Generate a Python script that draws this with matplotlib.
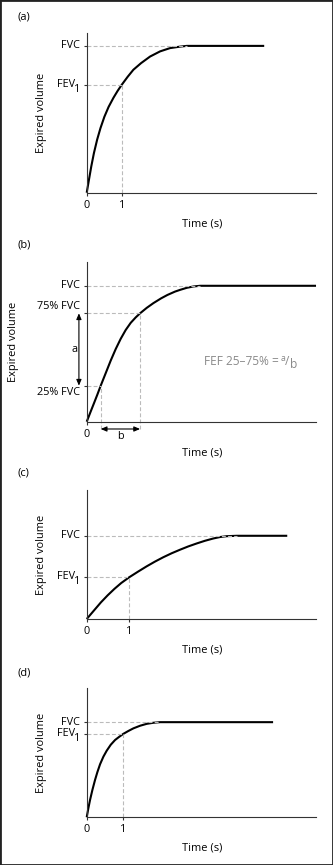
import matplotlib
matplotlib.use('Agg')
import matplotlib.pyplot as plt
from matplotlib.patches import Rectangle

plt.rcParams['font.family'] = ['Open Sans', 'DejaVu Sans']

FVC = 4.0

# (a) normal spirogram
time_a = [0, 0.065, 0.131, 0.206, 0.299, 0.393, 0.505, 0.626, 0.766, 0.88, 1.0,
          1.171, 1.333, 1.552, 1.81, 2.095, 2.381, 2.667, 2.857, 5.07]
vol_a = [0, 0.36, 0.72, 1.08, 1.45, 1.76, 2.07, 2.34, 2.59, 2.77, 2.94,
         3.16, 3.35, 3.53, 3.71, 3.85, 3.94, 3.98, 4.0, 4.0]
fev1_a = 2.94

# (b) FEF 25-75%
time_b = [0, 0.114, 0.21, 0.305, 0.4, 0.543, 0.686, 0.829, 0.971, 1.114, 1.257, 1.4,
          1.524, 1.714, 1.905, 2.124, 2.305, 2.524, 2.667, 2.857, 3.048, 3.24, 6.55]
vol_b = [0, 0.30, 0.55, 0.80, 1.06, 1.43, 1.80, 2.14, 2.44, 2.70, 2.91, 3.07,
         3.19, 3.35, 3.49, 3.63, 3.73, 3.83, 3.88, 3.94, 3.98, 4.0, 4.0]
lvl25_b, t25_b = 1.06, 0.40
lvl75_b, t75_b = 3.19, 1.524

# (c) obstructive
time_c = [0, 0.176, 0.336, 0.496, 0.656, 0.816, 1.0, 1.216, 1.416, 1.614, 1.811,
          2.008, 2.205, 2.402, 2.598, 2.795, 2.992, 3.15, 3.307, 3.543, 4.74]
vol_c = [0, 0.42, 0.80, 1.14, 1.45, 1.73, 2.0, 2.28, 2.53, 2.76, 2.97,
         3.16, 3.33, 3.49, 3.63, 3.76, 3.87, 3.94, 3.98, 4.0, 4.0]
fev1_c = 2.0

# (d) restrictive
time_d = [0, 0.045, 0.091, 0.155, 0.227, 0.291, 0.364, 0.455, 0.545, 0.655, 0.773,
          0.882, 1.0, 1.136, 1.273, 1.455, 1.636, 1.818, 2.0, 5.08]
vol_d = [0, 0.38, 0.73, 1.15, 1.57, 1.90, 2.23, 2.55, 2.80, 3.05, 3.25,
         3.38, 3.51, 3.63, 3.74, 3.85, 3.93, 3.975, 4.0, 4.0]
fev1_d = 3.51

FS = 7.8
AXC = '#333333'
DASH = dict(color='#bbbbbb', lw=0.8, ls=(0, (3.5, 2)), clip_on=False)

fig = plt.figure(figsize=(3.33, 8.65), dpi=100)
fig.patches.append(Rectangle((0, 0), 1, 1, transform=fig.transFigure,
                             fill=False, edgecolor='#222222', lw=2))


def ylab(ax, y, s, dx=-4.8, dy=0):
    ax.annotate(s, xy=(0, y), xycoords=('axes fraction', 'data'),
                xytext=(dx, dy), textcoords='offset points',
                ha='right', va='center', fontsize=FS)


def panel(rect, t, v, xmax, ymax, plateau, fev1=None, xticks=(0, 1), ylx=-0.196):
    ax = fig.add_axes(rect)
    ax.plot(t, v, color='black', lw=1.5, clip_on=False, solid_capstyle='butt',
            solid_joinstyle='round')
    ax.set_xlim(0, xmax)
    ax.set_ylim(0, ymax)
    ax.spines['top'].set_visible(False)
    ax.spines['right'].set_visible(False)
    for s in ['left', 'bottom']:
        ax.spines[s].set_color(AXC)
        ax.spines[s].set_linewidth(0.8)
    ax.tick_params(direction='out', length=2.2, width=0.8, color=AXC,
                   labelsize=FS, pad=3)
    ax.set_xticks(list(xticks))
    ax.set_xticklabels([str(x) for x in xticks])
    ax.plot([0, plateau], [FVC, FVC], **DASH)
    ticks = [FVC]
    ylab(ax, FVC, 'FVC')
    if fev1 is not None:
        ax.plot([0, 1], [fev1, fev1], **DASH)
        ax.plot([1, 1], [0, fev1], **DASH)
        ticks.append(fev1)
        ylab(ax, fev1, 'FEV', dx=-8.6, dy=0.3)
        ylab(ax, fev1, '1', dx=-4.8, dy=-3.2)
    ax.set_yticks(ticks)
    ax.set_yticklabels([''] * len(ticks))
    ax.text(ylx, 0.5, 'Expired volume', rotation=90, transform=ax.transAxes,
            ha='center', va='center', fontsize=7.9)
    ax.annotate('Time (s)', xy=(0.503, 0), xycoords='axes fraction',
                xytext=(0, -22.3), textcoords='offset points',
                ha='center', va='center', fontsize=7.9)
    return ax


ax_a = panel([0.2604, 0.7772, 0.6886, 0.1846], time_a, vol_a, 6.55, 4.35, 2.857, fev1_a)
ax_b = panel([0.2604, 0.5125, 0.6886, 0.1846], time_b, vol_b, 6.55, 4.70, 3.24,
             xticks=(0,), ylx=-0.321)
ax_c = panel([0.2604, 0.2844, 0.6886, 0.1491], time_c, vol_c, 5.42, 6.2, 3.543, fev1_c)
ax_d = panel([0.2604, 0.0552, 0.6886, 0.1495], time_d, vol_d, 6.25, 5.44, 2.0, fev1_d)

# extras for (b)
arrow_y = -0.215
ax_b.set_yticks([lvl25_b, lvl75_b, FVC])
ax_b.set_yticklabels(['', '', ''])
ylab(ax_b, lvl75_b, '75% FVC', dy=5)
ylab(ax_b, lvl25_b, '25% FVC', dy=-5)
ax_b.plot([0, t75_b], [lvl75_b, lvl75_b], **DASH)
ax_b.plot([0, t25_b], [lvl25_b, lvl25_b], **DASH)
ax_b.plot([t75_b, t75_b], [arrow_y, lvl75_b], **DASH)
ax_b.plot([t25_b, t25_b], [arrow_y, lvl25_b], **DASH)
arrow = dict(arrowstyle='<|-|>,head_length=0.35,head_width=0.15', lw=0.8,
             color='black', shrinkA=0, shrinkB=0)
ax_b.annotate('', xy=(-0.034, lvl75_b), xytext=(-0.034, lvl25_b),
              xycoords=('axes fraction', 'data'), arrowprops=arrow,
              annotation_clip=False)
ax_b.annotate('a', xy=(-0.034, (lvl25_b + lvl75_b) / 2),
              xycoords=('axes fraction', 'data'), xytext=(-1, 0),
              textcoords='offset points', ha='right', va='center', fontsize=FS)
ax_b.annotate('', xy=(t25_b, arrow_y), xytext=(t75_b, arrow_y), arrowprops=arrow,
              annotation_clip=False)
ax_b.annotate('b', xy=((t25_b + t75_b) / 2, 0), xycoords=('data', 'axes fraction'),
              xytext=(0, -10.5), textcoords='offset points', ha='center',
              va='center', fontsize=FS)

# FEF 25-75% = a/b, built from pieces
GREY = '#8a8a8a'
fef = ax_b.text(3.35, 1.76, 'FEF 25–75% =', color=GREY, ha='left', va='center',
                fontsize=8.6)
fig.canvas.draw()
bb = fef.get_window_extent()
x0 = bb.x1 + 2
yc = (bb.y0 + bb.y1) / 2
W, H = 333.0, 865.0
fig.text(x0 / W, (yc + 3) / H, 'a', color=GREY, ha='left', va='center', fontsize=6.3)
fig.text((x0 + 4.5) / W, yc / H, '/', color=GREY, ha='left', va='center', fontsize=8.6)
fig.text((x0 + 9) / W, (yc - 3) / H, 'b', color=GREY, ha='left', va='center', fontsize=8.6)

for lab, y in [('(a)', 17), ('(b)', 245), ('(c)', 473), ('(d)', 673)]:
    fig.text(17 / W, 1 - y / H, lab, ha='left', va='center', fontsize=7.9)

plt.savefig('out.png', dpi=100)
